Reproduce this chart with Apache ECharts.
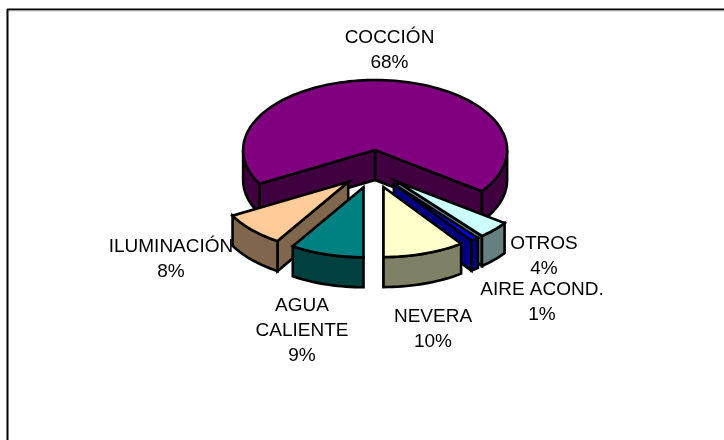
<!DOCTYPE html>
<html>
<head>
<meta charset="utf-8">
<style>
html, body { margin: 0; padding: 0; background: #fff; }
#main { width: 724px; height: 440px; }
</style>
<script src="https://cdn.jsdelivr.net/npm/echarts@6/dist/echarts.min.js"></script>
</head>
<body>
<div id="main"></div>
<script>
var categories = ['COCCIÓN', 'OTROS', 'AIRE ACOND.', 'NEVERA', 'AGUA\nCALIENTE', 'ILUMINACIÓN'];
var percents = [68, 4, 1, 10, 9, 8];
var topColors = ['#800080', '#CCFFFF', '#0000FF', '#FFFFCC', '#008080', '#FFCC99'];
var sideColors = ['#400040', '#668080', '#000080', '#808066', '#004040', '#80664D'];

// layout of the fake 3d pie, angles are clockwise from 12 o'clock
var cx = 373, cy = 169, rx = 132, ry = 70, depth = 30;
var explodeX = 34, explodeY = 19;
var firstAngle = 241.2;
var labelSpots = [[389.5, 50.5], [544, 256], [542, 302], [433, 329], [302, 331], [171, 259]];

var chart = echarts.init(document.getElementById('main'));

function rad(a) {
    return a * Math.PI / 180;
}

function rim(c, a, dy) {
    return [c[0] + rx * Math.sin(rad(a)), c[1] - ry * Math.cos(rad(a)) + (dy || 0)];
}

function arcPoints(c, a0, a1, dy) {
    var pts = [];
    var n = Math.max(2, Math.ceil(Math.abs(a1 - a0) / 2));
    for (var i = 0; i <= n; i++) {
        pts.push(rim(c, a0 + (a1 - a0) * i / n, dy));
    }
    return pts;
}

function poly(pts, fill, z2) {
    return {
        type: 'polygon',
        z2: z2,
        shape: { points: pts },
        style: { fill: fill, stroke: '#000', lineWidth: 2.6, lineJoin: 'miter' }
    };
}

function wall(c, a, fill, z2) {
    var end = rim(c, a);
    return poly([c, end, [end[0], end[1] + depth], [c[0], c[1] + depth]], fill, z2);
}

function renderSlice(params, api) {
    var i = params.dataIndex;
    var before = 0;
    for (var j = 0; j < i; j++) before += percents[j];
    var a0 = firstAngle + before * 3.6;
    var a1 = a0 + percents[i] * 3.6;
    var mid = rad((a0 + a1) / 2);
    var c = [cx + explodeX * Math.sin(mid), cy - explodeY * Math.cos(mid)];
    var z2 = Math.round(c[1]);
    var side = sideColors[i];
    var kids = [];

    // inner walls, only the ones facing the viewer
    if (Math.sin(rad(a0)) < 0) kids.push(wall(c, a0, side, z2));
    if (Math.sin(rad(a1)) > 0) kids.push(wall(c, a1, side, z2));

    // outer wall is seen only on the front half of the ellipse
    [0, 360].forEach(function(k) {
        var lo = Math.max(a0, 90 + k);
        var hi = Math.min(a1, 270 + k);
        if (hi > lo) {
            kids.push(poly(arcPoints(c, lo, hi).concat(arcPoints(c, hi, lo, depth)), side, z2));
        }
    });

    kids.push(poly([c].concat(arcPoints(c, a0, a1)), topColors[i], z2));

    kids.push({
        type: 'text',
        z2: 1000,
        style: {
            x: labelSpots[i][0],
            y: labelSpots[i][1],
            text: categories[i] + '\n' + percents[i] + '%',
            fill: '#000',
            font: '19px "Liberation Sans", Arial, sans-serif',
            lineHeight: 25,
            align: 'center',
            verticalAlign: 'middle'
        }
    });

    return { type: 'group', children: kids };
}

var option = {
    backgroundColor: '#fff',
    animation: false,
    graphic: [
        { type: 'line', shape: { x1: 7, y1: 9.5, x2: 724, y2: 9.5 }, style: { stroke: '#000', lineWidth: 2 } },
        { type: 'line', shape: { x1: 8, y1: 11, x2: 724, y2: 11 }, style: { stroke: '#c8c8c8', lineWidth: 1 } },
        { type: 'line', shape: { x1: 7.5, y1: 9, x2: 7.5, y2: 440 }, style: { stroke: '#000', lineWidth: 2 } }
    ],
    series: [{
        type: 'custom',
        coordinateSystem: 'none',
        renderItem: renderSlice,
        data: percents
    }]
};
chart.setOption(option);
</script>
</body>
</html>
